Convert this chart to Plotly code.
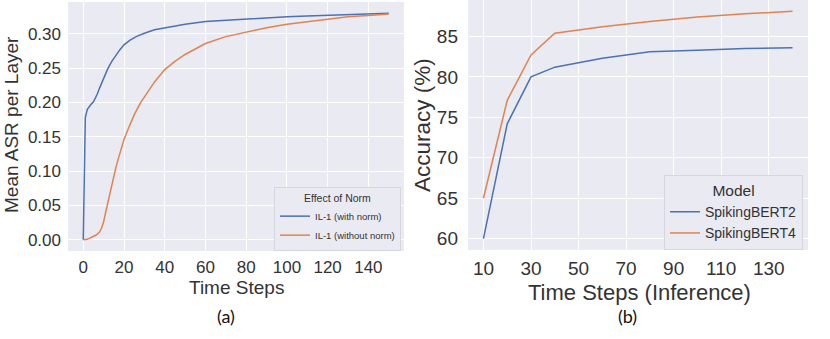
import plotly.graph_objects as go

W, H = 830, 339

# (a) mean ASR per layer vs time steps
steps_norm = [0, 1, 2, 3, 4, 5, 6, 7, 8, 9, 10, 12, 14, 16, 18, 20, 23, 26, 30, 35, 40,
              50, 60, 70, 80, 90, 100, 110, 120, 130, 140, 150]
asr_norm = [0.0, 0.178, 0.190, 0.195, 0.198, 0.201, 0.206, 0.213, 0.221, 0.228, 0.235,
            0.249, 0.260, 0.269, 0.277, 0.284, 0.291, 0.296, 0.301, 0.306, 0.309,
            0.314, 0.318, 0.320, 0.322, 0.324, 0.325, 0.326, 0.327, 0.328, 0.329, 0.330]

steps_no_norm = [0, 1, 2, 3, 4, 5, 6, 7, 8, 9, 10, 11, 12, 13, 14, 15, 16, 17, 18, 20, 22,
                 25, 28, 30, 35, 40, 45, 50, 60, 70, 80, 90, 100, 110, 120, 130, 140, 150]
asr_no_norm = [0.0, 0.0, 0.0005, 0.002, 0.004, 0.005, 0.006, 0.008, 0.011, 0.017, 0.026,
               0.040, 0.054, 0.066, 0.078, 0.092, 0.105, 0.116, 0.126, 0.146, 0.161,
               0.182, 0.199, 0.208, 0.230, 0.248, 0.260, 0.270, 0.286, 0.296, 0.303,
               0.309, 0.314, 0.318, 0.322, 0.325, 0.327, 0.329]

# (b) accuracy vs inference time steps
inf_steps = [10, 20, 30, 40, 60, 80, 100, 120, 140]
acc_bert2 = [60.0, 74.2, 80.0, 81.2, 82.3, 83.1, 83.3, 83.5, 83.6]
acc_bert4 = [65.0, 77.1, 82.7, 85.4, 86.2, 86.85, 87.4, 87.8, 88.1]

x_ticks_a = [0, 20, 40, 60, 80, 100, 120, 140]
y_ticks_a = [0.0, 0.05, 0.10, 0.15, 0.20, 0.25, 0.30]
x_ticks_b = [10, 30, 50, 70, 90, 110, 130]
y_ticks_b = [60, 65, 70, 75, 80, 85]

BLUE = "#4C72B0"
ORANGE = "#DD8452"
BG = "#EAEAF2"
FONT = "Liberation Sans, Arial, sans-serif"
TXT = "#333333"

fig = go.Figure()

fig.add_trace(go.Scatter(x=steps_norm, y=asr_norm, name="IL-1 (with norm)", mode="lines",
                         line=dict(color=BLUE, width=1.5), xaxis="x", yaxis="y", legend="legend"))
fig.add_trace(go.Scatter(x=steps_no_norm, y=asr_no_norm, name="IL-1 (without norm)", mode="lines",
                         line=dict(color=ORANGE, width=1.5), xaxis="x", yaxis="y", legend="legend"))
fig.add_trace(go.Scatter(x=inf_steps, y=acc_bert2, name="SpikingBERT2", mode="lines",
                         line=dict(color=BLUE, width=1.5), xaxis="x2", yaxis="y2", legend="legend2"))
fig.add_trace(go.Scatter(x=inf_steps, y=acc_bert4, name="SpikingBERT4", mode="lines",
                         line=dict(color=ORANGE, width=1.5), xaxis="x2", yaxis="y2", legend="legend2"))


def axis(size, **kw):
    return dict(showgrid=True, gridcolor="white", gridwidth=1.3, zeroline=False,
                showline=False, ticks="", automargin=False,
                tickfont=dict(family=FONT, size=size, color=TXT), **kw)


fig.update_layout(
    width=W, height=H,
    margin=dict(l=0, r=0, t=0, b=0, autoexpand=False),
    paper_bgcolor="white",
    plot_bgcolor=BG,
    font=dict(family=FONT, color=TXT),
    xaxis=axis(17, domain=[68 / W, 404 / W], range=[-7.5, 157.5], tickvals=x_ticks_a,
               anchor="y", ticklabelstandoff=4),
    yaxis=axis(17, domain=[1 - 251 / H, 1 - 2 / H], range=[-0.0165, 0.3465], tickvals=y_ticks_a,
               tickformat=".2f", anchor="x", ticklabelstandoff=6),
    xaxis2=axis(19, domain=[468 / W, 808 / W], range=[3.5, 146.5], tickvals=x_ticks_b,
                anchor="y2", ticklabelstandoff=5),
    yaxis2=axis(19, domain=[1 - 250 / H, 1.0], range=[58.6, 89.5], tickvals=y_ticks_b,
                anchor="x2", ticklabelstandoff=9),
    showlegend=True,
    legend=dict(
        x=401 / W, y=1 - 251 / H, xanchor="right", yanchor="bottom",
        bgcolor=BG, bordercolor="#D6D6DE", borderwidth=1,
        font=dict(family=FONT, size=9.5, color=TXT),
        title=dict(text="Effect of Norm", side="top center",
                   font=dict(family=FONT, size=10.5, color=TXT)),
        itemwidth=30, tracegroupgap=0,
    ),
    legend2=dict(
        x=803 / W, y=1 - 250 / H, xanchor="right", yanchor="bottom",
        bgcolor=BG, bordercolor="#D6D6DE", borderwidth=1,
        font=dict(family=FONT, size=14, color=TXT),
        title=dict(text="Model", side="top center",
                   font=dict(family=FONT, size=15.5, color=TXT)),
        itemwidth=30, tracegroupgap=0,
    ),
)

titles = [
    dict(text="Mean ASR per Layer", x=11, y=125, size=19, angle=-90),
    dict(text="Time Steps", x=236, y=287, size=19, angle=0),
    dict(text="Accuracy (%)", x=422, y=125, size=22.5, angle=-90),
    dict(text="Time Steps (Inference)", x=639, y=292, size=22, angle=0),
]
for t in titles:
    fig.add_annotation(text=t["text"], x=t["x"] / W, y=1 - t["y"] / H, xref="paper", yref="paper",
                       xanchor="center", yanchor="middle", showarrow=False, textangle=t["angle"],
                       font=dict(family=FONT, size=t["size"], color=TXT))

for label, cx in [("(a)", 226), ("(b)", 627)]:
    fig.add_annotation(text=label, x=cx / W, y=1 - 316 / H, xref="paper", yref="paper",
                       xanchor="center", yanchor="middle", showarrow=False,
                       font=dict(family="Lato, Open Sans, sans-serif", size=18, color="#111111"))

# the page body has a default 8px margin; drop it so the figure fills the window
fig.write_html("out.html", config={"displayModeBar": False},
               post_script="document.body.style.margin = '0';")
